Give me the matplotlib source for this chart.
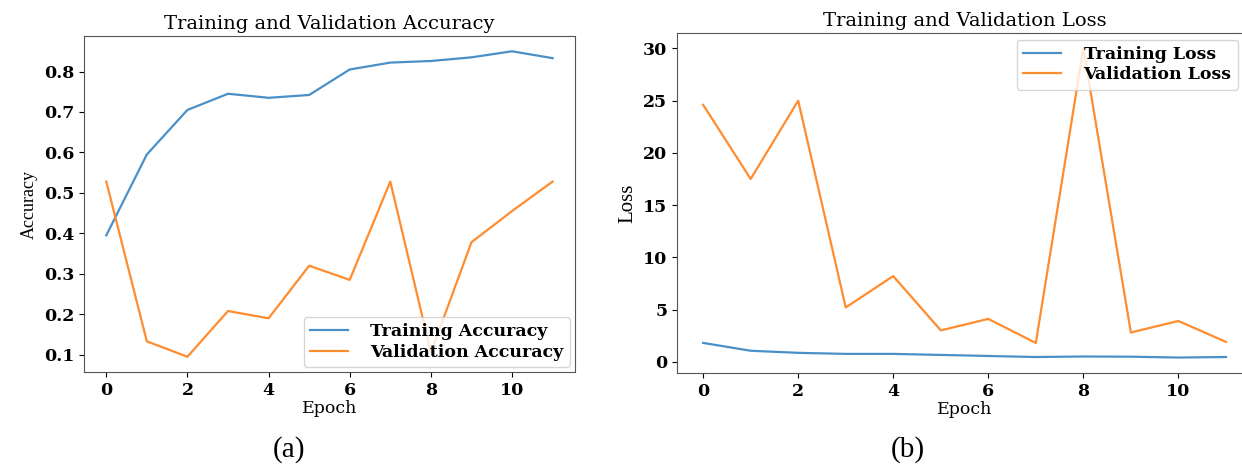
import numpy as np
import matplotlib
matplotlib.use("Agg")
import matplotlib.pyplot as plt

# data
epochs = np.arange(12)
train_acc = [0.395, 0.595, 0.705, 0.745, 0.735, 0.742, 0.805, 0.822, 0.826, 0.835, 0.850, 0.833]
val_acc = [0.528, 0.133, 0.095, 0.208, 0.190, 0.320, 0.285, 0.528, 0.105, 0.378, 0.455, 0.528]
train_loss = [1.80, 1.05, 0.85, 0.75, 0.75, 0.65, 0.55, 0.45, 0.50, 0.48, 0.40, 0.45]
val_loss = [24.6, 17.5, 25.0, 5.2, 8.2, 3.0, 4.1, 1.8, 30.0, 2.8, 3.9, 1.9]

fig = plt.figure(figsize=(12.42, 4.67), dpi=100)
ax1 = fig.add_axes([0.0676, 0.2034, 0.3953, 0.7195])
ax2 = fig.add_axes([0.5451, 0.2013, 0.4630, 0.7280])

tick_font = dict(family="DejaVu Serif", weight="bold", size=12.5)
leg_font = dict(family="DejaVu Serif", weight="bold", size=12.5)


def style(ax, title, ylabel, ylabel_size):
    ax.set_title(title, family="DejaVu Serif", fontsize=14, pad=5)
    ax.set_xlabel("Epoch", family="DejaVu Serif", fontsize=12.5, labelpad=1)
    ax.set_ylabel(ylabel, family="Liberation Serif", fontsize=ylabel_size, labelpad=4)
    ax.set_xticks([0, 2, 4, 6, 8, 10])
    for lab in ax.get_xticklabels() + ax.get_yticklabels():
        lab.set_fontproperties(matplotlib.font_manager.FontProperties(**tick_font))
    for sp in ax.spines.values():
        sp.set_color("#555555")


ax1.plot(epochs, train_acc, color="#4a90c8", lw=1.6, label="Training Accuracy")
ax1.plot(epochs, val_acc, color="#ff8c2e", lw=1.6, label="Validation Accuracy")
ax1.set_yticks([0.1, 0.2, 0.3, 0.4, 0.5, 0.6, 0.7, 0.8])
style(ax1, "Training and Validation Accuracy", "Accuracy", 13)
ax1.legend(loc="lower right", prop=leg_font, handlelength=2.2, handletextpad=1.3,
           borderaxespad=0.3, labelspacing=0.2, borderpad=0.35)

ax2.plot(epochs, train_loss, color="#4a90c8", lw=1.6, label="Training Loss")
ax2.plot(epochs, val_loss, color="#ff8c2e", lw=1.6, label="Validation Loss")
ax2.set_yticks([0, 5, 10, 15, 20, 25, 30])
style(ax2, "Training and Validation Loss", "Loss", 15)
ax2.legend(loc="upper right", prop=leg_font, handlelength=2.2, handletextpad=1.3,
           bbox_to_anchor=(0.981, 0.99), borderaxespad=0.2, labelspacing=0.2,
           borderpad=0.35)

fig.text(289 / 1242, 1 - 450 / 467, "(a)", family="Liberation Serif", fontsize=21,
         ha="center", va="center")
fig.text(908 / 1242, 1 - 450 / 467, "(b)", family="Liberation Serif", fontsize=21,
         ha="center", va="center")

fig.savefig("out.png", dpi=100)
